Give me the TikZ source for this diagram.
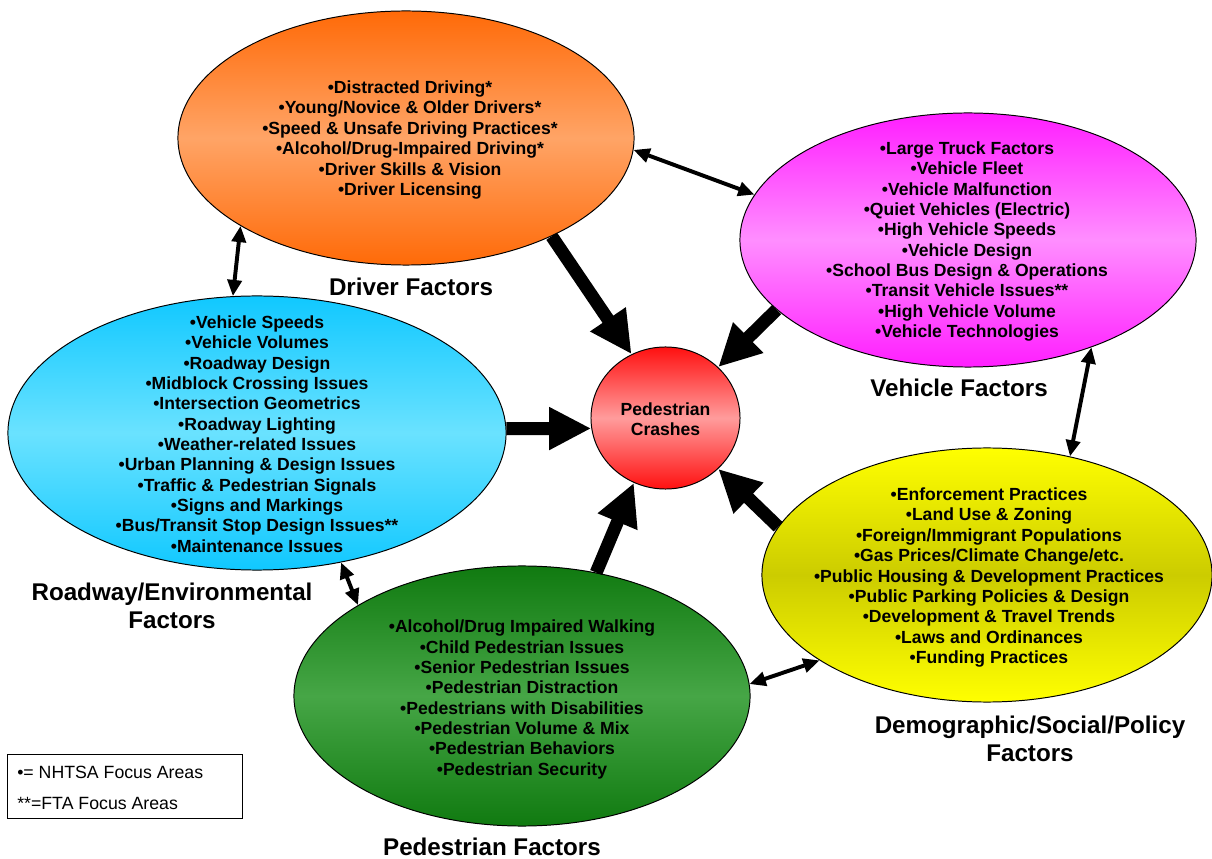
\documentclass[tikz,border=0pt]{standalone}
\usepackage{fontspec}
\setmainfont{Liberation Sans}
\usetikzlibrary{shapes.geometric,arrows.meta}
\definecolor{orgTop}{HTML}{FF6A08}
\definecolor{orgMid}{HTML}{FFA466}
\definecolor{magTop}{HTML}{FF1EFF}
\definecolor{magMid}{HTML}{FF8EFF}
\definecolor{cyaTop}{HTML}{10C8FF}
\definecolor{cyaMid}{HTML}{6AE2FF}
\definecolor{grnTop}{HTML}{107A10}
\definecolor{grnMid}{HTML}{46A646}
\definecolor{yelTop}{HTML}{FFFF00}
\definecolor{yelMid}{HTML}{CCCC00}
\definecolor{redTop}{HTML}{FF1010}
\definecolor{redMid}{HTML}{FF9C9C}
\tikzset{
  blob/.style={ellipse, draw=black, line width=0.7pt, inner sep=0pt},
  items/.style={font=\bfseries\fontsize{12.5}{14.47}\selectfont, align=center, inner sep=0pt},
  caption/.style={font=\bfseries\fontsize{17.2}{19.6}\selectfont, align=center, inner sep=0pt},
  keytext/.style={font=\fontsize{12.6}{14}\selectfont, anchor=west, inner sep=0pt},
  bigarrow/.style={line width=9.2pt, -{Triangle[length=30pt,width=28.5pt]}},
  link/.style={line width=2.8pt, {Triangle[length=11.5pt,width=10pt]}-{Triangle[length=11.5pt,width=10pt]}}
}

\begin{document}
\begin{tikzpicture}[x=0.025cm, y=-0.025cm]
  \useasboundingbox (0,0) rectangle (1212,859);

  % the six blobs
  \node[blob, minimum width=11.4cm, minimum height=6.35cm,
    top color=orgTop, bottom color=orgTop, middle color=orgMid] (driver) at (406,138) {};
  \node[blob, minimum width=11.4cm, minimum height=6.35cm,
    top color=magTop, bottom color=magTop, middle color=magMid] (vehicle) at (968,240) {};
  \node[blob, minimum width=12.45cm, minimum height=6.85cm,
    top color=cyaTop, bottom color=cyaTop, middle color=cyaMid] (roadway) at (257,433) {};
  \node[blob, minimum width=11.4cm, minimum height=6.5cm,
    top color=grnTop, bottom color=grnTop, middle color=grnMid] (ped) at (522,696) {};
  \node[blob, minimum width=11.25cm, minimum height=6.35cm,
    top color=yelTop, bottom color=yelTop, middle color=yelMid] (demog) at (987,575) {};
  \node[blob, minimum width=3.725cm, minimum height=3.55cm,
    top color=redTop, bottom color=redTop, middle color=redMid] (crash) at (665.5,418) {};

  % lists
  \node[items] (drivertext) at (410,140) {%
    •Distracted Driving*\\
    •Young/Novice \& Older Drivers*\\
    •Speed \& Unsafe Driving Practices*\\
    •Alcohol/Drug-Impaired Driving*\\
    •Driver Skills \& Vision\\
    •Driver Licensing};
  \node[items] (vehicletext) at (967,241.5) {%
    •Large Truck Factors\\
    •Vehicle Fleet\\
    •Vehicle Malfunction\\
    •Quiet Vehicles (Electric)\\
    •High Vehicle Speeds\\
    •Vehicle Design\\
    •School Bus Design \& Operations\\
    •Transit Vehicle Issues**\\
    •High Vehicle Volume\\
    •Vehicle Technologies};
  \node[items] (roadwaytext) at (257,434) {%
    •Vehicle Speeds\\
    •Vehicle Volumes\\
    •Roadway Design\\
    •Midblock Crossing Issues\\
    •Intersection Geometrics\\
    •Roadway Lighting\\
    •Weather-related Issues\\
    •Urban Planning \& Design Issues\\
    •Traffic \& Pedestrian Signals\\
    •Signs and Markings\\
    •Bus/Transit Stop Design Issues**\\
    •Maintenance Issues};
  \node[items] (pedtext) at (522,699.5) {%
    •Alcohol/Drug Impaired Walking\\
    •Child Pedestrian Issues\\
    •Senior Pedestrian Issues\\
    •Pedestrian Distraction\\
    •Pedestrians with Disabilities\\
    •Pedestrian Volume \& Mix\\
    •Pedestrian Behaviors\\
    •Pedestrian Security};
  \node[items] (demogtext) at (989,577.5) {%
    •Enforcement Practices\\
    •Land Use \& Zoning\\
    •Foreign/Immigrant Populations\\
    •Gas Prices/Climate Change/etc.\\
    •Public Housing \& Development Practices\\
    •Public Parking Policies \& Design\\
    •Development \& Travel Trends\\
    •Laws and Ordinances\\
    •Funding Practices};
  \node[items] (crashtext) at (665.5,419.5) {Pedestrian\\Crashes};

  % captions
  \node[caption] (driverlabel) at (411,287) {Driver Factors};
  \node[caption] (vehiclelabel) at (959,388) {Vehicle Factors};
  \node[caption] (roadwaylabel) at (172,606) {Roadway/Environmental\\Factors};
  \node[caption] (pedlabel) at (492,847) {Pedestrian Factors};
  \node[caption] (demoglabel) at (1030,739) {Demographic/Social/Policy\\Factors};

  % into the crash circle
  \draw[bigarrow] (driver.-34) -- (crash.118);
  \draw[bigarrow] (vehicle.-160.6) -- (crash.44);
  \draw[bigarrow] (roadway.1) -- (crash.188);
  \draw[bigarrow] (ped.59) -- (crash.-116.6);
  \draw[bigarrow] (demog.167) -- (crash.-44);

  % ring of links
  \draw[link] (driver.-3.8) -- (vehicle.168.4);
  \draw[link] (driver.208.5) -- (roadway.100.3);
  \draw[link] (vehicle.-41.8) -- (demog.55.3);
  \draw[link] (roadway.-57.9) -- (ped.151.8);
  \draw[link] (ped.3) -- (demog.207.8);

  % key
  \node[draw, line width=0.7pt, minimum width=5.85cm, minimum height=1.6cm,
    inner sep=0pt] (legend) at (125,786) {};
  \node[keytext] (key1) at (17,772) {•= NHTSA Focus Areas};
  \node[keytext] (key2) at (17,803) {**=FTA Focus Areas};
\end{tikzpicture}
\end{document}
